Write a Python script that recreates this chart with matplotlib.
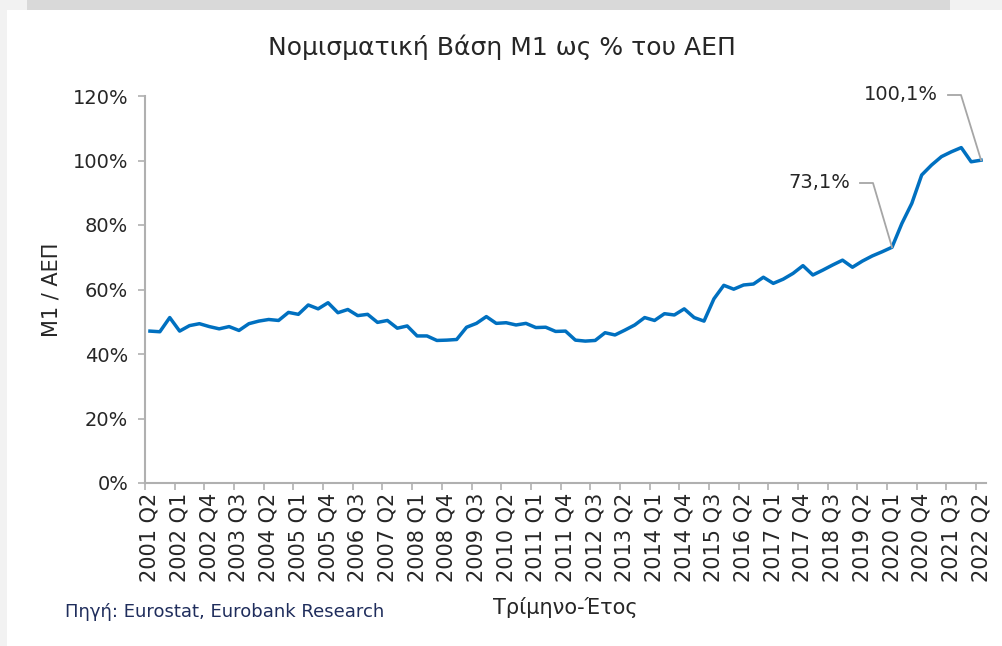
import matplotlib
matplotlib.use("Agg")
import matplotlib.pyplot as plt
from matplotlib.patches import Rectangle

# ---- data ----
start_year, start_q = 2001, 2
m1_gdp = [47.1, 46.9, 51.3, 47.1, 48.8, 49.4, 48.5, 47.8, 48.5, 47.3,
          49.4, 50.2, 50.7, 50.4, 52.9, 52.3, 55.2, 54.0, 55.9, 52.8,
          53.8, 51.9, 52.3, 49.8, 50.4, 48.0, 48.7, 45.6, 45.6, 44.2,
          44.3, 44.5, 48.3, 49.5, 51.6, 49.5, 49.7, 49.0, 49.5, 48.2,
          48.3, 47.0, 47.1, 44.3, 44.0, 44.2, 46.6, 45.9, 47.4, 49.0,
          51.3, 50.4, 52.5, 52.1, 54.0, 51.3, 50.2, 57.1, 61.3, 60.1,
          61.4, 61.7, 63.8, 61.9, 63.2, 65.0, 67.4, 64.5, 66.0, 67.6,
          69.1, 66.9, 68.8, 70.4, 71.7, 73.1, 80.5, 86.7, 95.5, 98.6,
          101.2, 102.7, 104.0, 99.6, 100.1]
quarters = []
y, q = start_year, start_q
for _ in m1_gdp:
    quarters.append(f"{y} Q{q}")
    q += 1
    if q > 4:
        q = 1
        y += 1
yticks = [0, 20, 40, 60, 80, 100, 120]
ytick_labels = [f"{v}%" for v in yticks]
title = "Νομισματική Βάση Μ1 ως % του ΑΕΠ"
ylabel = "M1 / ΑΕΠ"
xlabel = "Τρίμηνο-Έτος"
source = "Πηγή: Eurostat, Eurobank Research"
ann_idx = [75, 84]
ann_text = ["73,1%", "100,1%"]

# ---- figure ----
plt.rcParams['font.family'] = ['DejaVu Sans']
fig = plt.figure(figsize=(10.03, 6.46), dpi=100)
fig.patch.set_facecolor("white")
W, H = 1003, 646
# background frame
fig.patches.append(Rectangle((0, 0), 7 / W, 1, transform=fig.transFigure,
                             facecolor="#f2f2f2", edgecolor="none", zorder=0))
fig.patches.append(Rectangle((0, 1 - 10 / H), 1, 10 / H, transform=fig.transFigure,
                             facecolor="#f2f2f2", edgecolor="none", zorder=0))
fig.patches.append(Rectangle((27 / W, 1 - 10 / H), (950 - 27) / W, 10 / H,
                             transform=fig.transFigure,
                             facecolor="#d9d9d9", edgecolor="none", zorder=0))

ax = fig.add_axes([145 / W, 1 - 483 / H, (986 - 145) / W, (483 - 96) / H])
ax.set_facecolor("none")
x = list(range(len(m1_gdp)))
ax.plot(x, m1_gdp, color="#0070c0", lw=2.5, solid_joinstyle="round", zorder=3,
        clip_on=False)

ax.set_xlim(-0.5, len(m1_gdp) - 0.5)
ax.set_ylim(0, 120)
ax.set_yticks(yticks)
ax.set_yticklabels(ytick_labels)
major = x[::3]
ax.set_xticks(major)
ax.set_xticklabels([quarters[i] for i in major], rotation=90)
ax.set_xticks([i - 0.5 for i in major], minor=True)
ax.tick_params(axis="x", which="major", length=0, pad=7, labelsize=15,
               labelcolor="#262626")
ax.tick_params(axis="x", which="minor", length=5, width=1.2, color="#b0b0b0")
ax.tick_params(axis="y", length=5, width=1.2, color="#b0b0b0", labelsize=14,
               labelcolor="#262626", pad=7)
for s in ["top", "right"]:
    ax.spines[s].set_visible(False)
for s in ["left", "bottom"]:
    ax.spines[s].set_color("#b0b0b0")
    ax.spines[s].set_linewidth(1.5)

fig.text(0.5, 1 - 47 / H, title, ha="center", va="center", fontsize=18,
         color="#262626")
fig.text(52 / W, 1 - 290 / H, ylabel, rotation=90, ha="center", va="center",
         fontsize=15, color="#262626")
fig.text(565 / W, 1 - 607 / H, xlabel, ha="center", va="center", fontsize=15,
         color="#262626")
fig.text(65 / W, 1 - 612 / H, source, ha="left", va="center", fontsize=13,
         color="#1f2d5c")

# annotations
ann_pos = [(850, 183), (938, 95)]  # text right edge (px)
for idx, txt, (tx, ty) in zip(ann_idx, ann_text, ann_pos):
    ax.annotate(txt, xy=(idx, m1_gdp[idx]),
                xytext=(tx / W, 1 - ty / H), textcoords="figure fraction",
                ha="right", va="center", fontsize=14, color="#262626",
                annotation_clip=False)
    # leader line: short horizontal then to point
    xh0, xh1 = (tx + 10) / W, (tx + 23) / W
    yh = 1 - ty / H
    disp = ax.transData.transform((idx, m1_gdp[idx]))
    fx, fy = fig.transFigure.inverted().transform(disp)
    fig.lines.append(plt.Line2D([xh0, xh1, fx], [yh, yh, fy],
                                transform=fig.transFigure, color="#a6a6a6",
                                lw=1.3, zorder=2))

fig.savefig("out.png", dpi=100)
